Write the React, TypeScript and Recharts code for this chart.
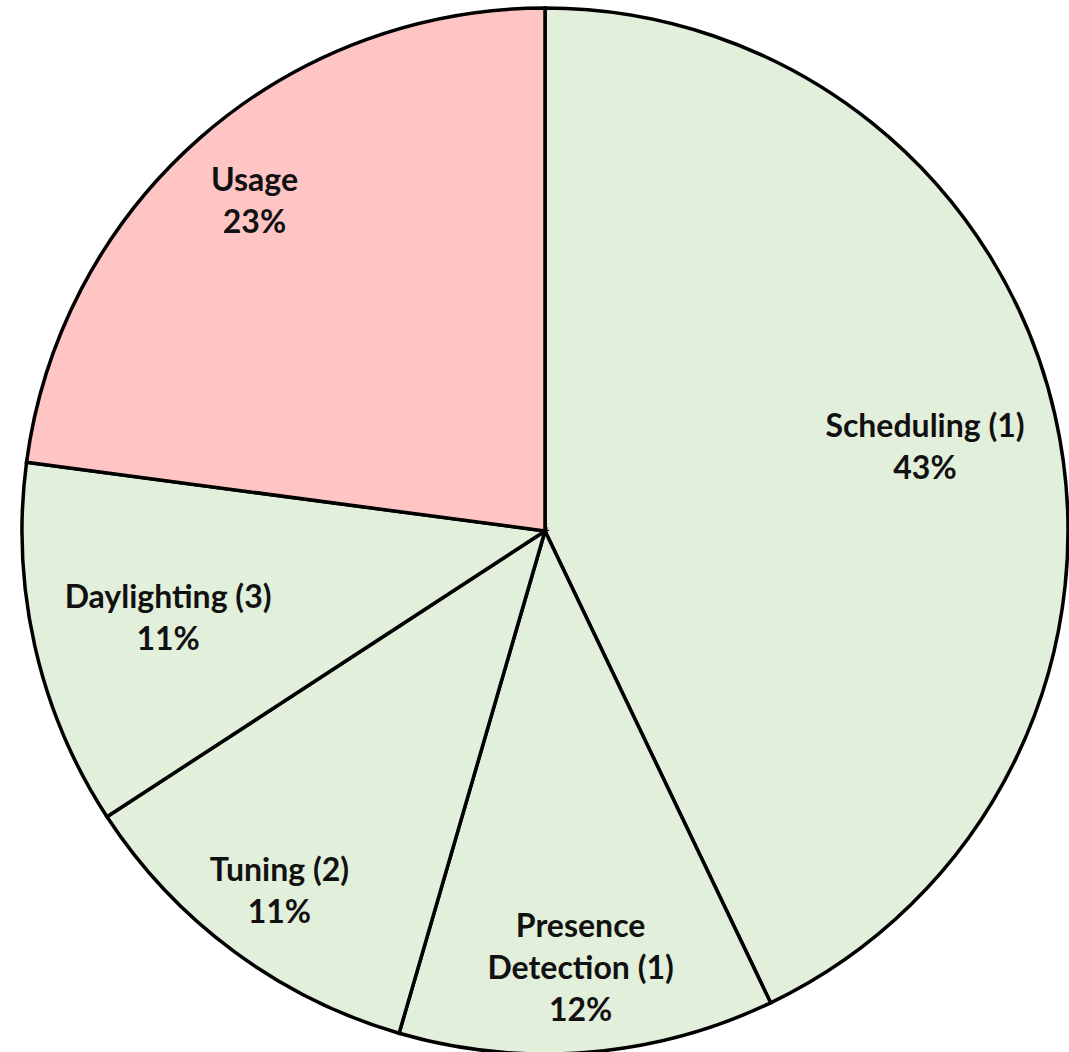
import { PieChart, Pie, Cell } from "recharts";

const categories = ["Scheduling (1)", "Presence\nDetection (1)", "Tuning (2)", "Daylighting (3)", "Usage"];
const shares = [42.9, 11.6, 11.3, 11.3, 22.9];

const FILLS = ["#e2efda", "#e2efda", "#e2efda", "#e2efda", "#ffc5c5"];
// how far out each label sits, as a fraction of the radius
const LABEL_RADIUS = [0.745, 0.835, 0.853, 0.739, 0.843];

const data = categories.map((name, i) => ({ name, value: shares[i] }));

const RAD = Math.PI / 180;
const LINE_H = 42;

function renderLabel(props: any) {
  const { cx, cy, midAngle, outerRadius, index, percent } = props;
  const r = outerRadius * LABEL_RADIUS[index];
  const x = cx + r * Math.cos(-midAngle * RAD);
  const y = cy + r * Math.sin(-midAngle * RAD);
  const lines = [...categories[index].split("\n"), `${Math.round(percent * 100)}%`];
  const top = y - ((lines.length - 1) * LINE_H) / 2;
  return (
    <text
      key={`lbl-${index}`}
      x={x}
      y={top}
      textAnchor="middle"
      dominantBaseline="central"
      fill="#111"
      fontFamily="Lato, 'Open Sans', sans-serif"
      fontWeight={700}
      fontSize={32}
    >
      {lines.map((l, i) => (
        <tspan key={i} x={x} y={top + i * LINE_H}>
          {l}
        </tspan>
      ))}
    </text>
  );
}

export default function App() {
  return (
    <div style={{ position: "absolute", left: 0, top: 0, width: 1069, height: 1052, background: "#fff" }}>
      <PieChart width={1069} height={1052} margin={{ top: 0, right: 0, bottom: 0, left: 0 }}>
        <Pie
          data={data}
          dataKey="value"
          cx={545}
          cy={531}
          outerRadius={523}
          startAngle={90}
          endAngle={-270}
          stroke="#000"
          strokeWidth={3.5}
          label={renderLabel}
          labelLine={false}
          isAnimationActive={false}
        >
          {data.map((d, i) => (
            <Cell key={d.name} fill={FILLS[i]} />
          ))}
        </Pie>
      </PieChart>
    </div>
  );
}
